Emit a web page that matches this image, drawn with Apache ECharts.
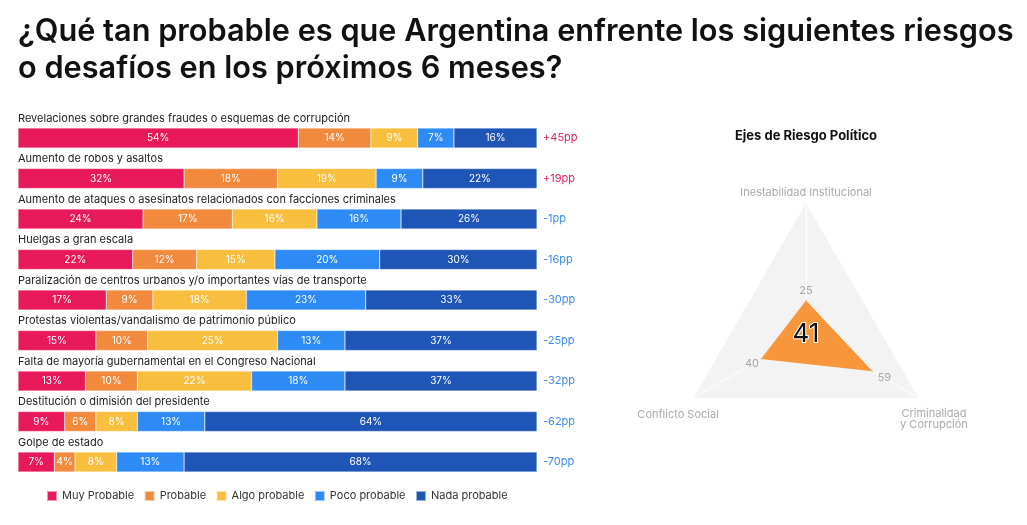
<!DOCTYPE html>
<html>
<head>
<meta charset="utf-8">
<script src="https://cdn.jsdelivr.net/npm/echarts@6/dist/echarts.min.js"></script>
<style>
  html, body { margin: 0; padding: 0; background: #ffffff; }
  #chart { width: 1027px; height: 525px; }
</style>
</head>
<body>
<div id="chart"></div>
<script>
// ---- Data ----
const titleText = '¿Qué tan probable es que Argentina enfrente los siguientes riesgos\no desafíos en los próximos 6 meses?';
const categories = [
  'Revelaciones sobre grandes fraudes o esquemas de corrupción',
  'Aumento de robos y asaltos',
  'Aumento de ataques o asesinatos relacionados con facciones criminales',
  'Huelgas a gran escala',
  'Paralización de centros urbanos y/o importantes vías de transporte',
  'Protestas violentas/vandalismo de patrimonio público',
  'Falta de mayoría gubernamental en el Congreso Nacional',
  'Destitución o dimisión del presidente',
  'Golpe de estado'
];
const seriesNames = ['Muy Probable', 'Probable', 'Algo probable', 'Poco probable', 'Nada probable'];
const muyProbable  = [54, 32, 24.1, 22.1, 17, 15, 13, 9, 7];
const probable     = [14, 18, 17.2, 12.3, 9, 10, 10, 6, 4];
const algoProbable = [9, 19, 16.3, 15.1, 18, 25, 22, 8, 8];
const pocoProbable = [7, 9, 16.2, 20.2, 23, 13, 18, 13, 13];
const nadaProbable = [16, 22, 26.2, 30.3, 33, 37, 37, 64, 68];
const netDiff = [45, 19, -1, -16, -30, -25, -32, -62, -70];

const radarTitle = 'Ejes de Riesgo Político';
const radarAxes = ['Inestabilidad Institucional', 'Conflicto Social', 'Criminalidad\ny Corrupción'];
const radarValues = [25, 40, 59];
const radarMax = 100;
const overallScore = 41;

// ---- Styles ----
const FONT = 'Inter, "Noto Sans", sans-serif';
const colors = ['#E8195B', '#F28A3E', '#F8BE3E', '#2E8BF6', '#1F55B6'];
const posColor = '#E0245E';
const negColor = '#3D8BEB';

const seriesData = [muyProbable, probable, algoProbable, pocoProbable, nadaProbable];
const ppLabels = netDiff.map(v => (v > 0 ? '+' : '-') + Math.abs(v) + 'pp');

const barSeries = seriesNames.map((name, i) => ({
  name: name,
  type: 'bar',
  stack: 'total',
  barWidth: 20,
  xAxisIndex: 0,
  yAxisIndex: 0,
  itemStyle: { color: colors[i], borderColor: 'rgba(255,255,255,0.55)', borderWidth: 0.5 },
  label: {
    show: true,
    position: 'inside',
    color: '#ffffff',
    fontFamily: FONT,
    fontSize: 10,
    formatter: p => Math.round(p.value) + '%'
  },
  data: seriesData[i]
}));

// rich offsets for radar value labels (per indicator)
const valueRich = {
  v0: { padding: [0, 0, 20, 0] },
  v1: { padding: [10, 18, 0, 0] },
  v2: { padding: [12, 0, 0, 24] }
};
const nameRich = {
  n0: { padding: [0, 0, 0, 0] },
  n1: { padding: [28, 22, 0, 0] },
  n2: { padding: [0, 0, 0, 22] },
  n2a: { padding: [38, 0, 0, 22] }
};

const option = {
  backgroundColor: '#ffffff',
  animation: false,
  textStyle: { fontFamily: FONT },
  title: [
    {
      text: titleText,
      left: 13,
      top: 8,
      textStyle: { fontFamily: FONT, fontSize: 30.7, fontWeight: 600, color: '#111111', lineHeight: 37 }
    },
    {
      text: radarTitle,
      left: 801,
      top: 125,
      textAlign: 'center',
      textStyle: { fontFamily: FONT, fontSize: 13, fontWeight: 700, color: '#111111' }
    },
    {
      text: String(overallScore),
      left: 801,
      top: 316,
      textAlign: 'center',
      textStyle: { fontFamily: FONT, fontSize: 26, fontWeight: 400, color: '#111111', textBorderColor: '#ffffff', textBorderWidth: 2 }
    }
  ],
  legend: {
    data: seriesNames,
    left: 41,
    top: 485,
    itemWidth: 10,
    itemHeight: 10,
    itemGap: 9.5,
    icon: 'rect',
    textStyle: { fontFamily: FONT, fontSize: 11, color: '#333333' }
  },
  grid: { left: 18, right: 490, top: 117.75, bottom: 42.75, containLabel: false },
  xAxis: {
    type: 'value',
    min: 0,
    max: 100,
    show: false
  },
  yAxis: [
    {
      type: 'category',
      inverse: true,
      data: categories,
      axisLine: { show: false },
      axisTick: { show: false },
      axisLabel: {
        inside: true,
        interval: 0,
        margin: 0,
        align: 'left',
        verticalAlign: 'bottom',
        padding: [0, 0, 14, 0],
        fontFamily: FONT,
        fontSize: 11,
        color: '#222222'
      }
    },
    {
      type: 'category',
      inverse: true,
      position: 'right',
      data: ppLabels,
      axisLine: { show: false },
      axisTick: { show: false },
      axisLabel: {
        interval: 0,
        margin: 6,
        fontFamily: FONT,
        fontSize: 11,
        color: (val, idx) => netDiff[idx] > 0 ? posColor : negColor
      }
    }
  ],
  radar: {
    center: [806, 333],
    radius: 130,
    startAngle: 90,
    shape: 'polygon',
    splitNumber: 1,
    nameGap: 5,
    indicator: radarAxes.map(n => ({ name: n, max: radarMax, min: 0 })),
    axisName: {
      color: '#ababab',
      fontFamily: FONT,
      fontSize: 11,
      align: 'center',
      formatter: (name) => {
        const i = radarAxes.indexOf(name);
        if (i === 2) {
          const parts = name.split('\n');
          return '{n2a|' + parts[0] + '}\n{n2|' + parts[1] + '}';
        }
        return '{n' + i + '|' + name + '}';
      },
      rich: nameRich
    },
    splitArea: { show: true, areaStyle: { color: ['#f3f3f3'] } },
    splitLine: { show: false },
    axisLine: { show: true, lineStyle: { color: '#ffffff', width: 1 } },
    axisTick: { show: false },
    axisLabel: { show: false }
  },
  series: barSeries.concat([
    {
      type: 'radar',
      symbol: 'circle',
      symbolSize: 1,
      itemStyle: { color: '#F7963A' },
      lineStyle: { width: 0 },
      areaStyle: { color: '#F7963A', opacity: 1 },
      label: {
        show: true,
        position: 'inside',
        color: '#a6a6a6',
        fontFamily: FONT,
        fontSize: 11,
        formatter: p => {
          const i = radarValues.indexOf(p.value);
          return '{v' + i + '|' + p.value + '}';
        },
        rich: valueRich
      },
      data: [{ value: radarValues, name: radarTitle }]
    }
  ])
};

const chart = echarts.init(document.getElementById('chart'), null, { renderer: 'canvas' });
chart.setOption(option);
</script>
</body>
</html>
